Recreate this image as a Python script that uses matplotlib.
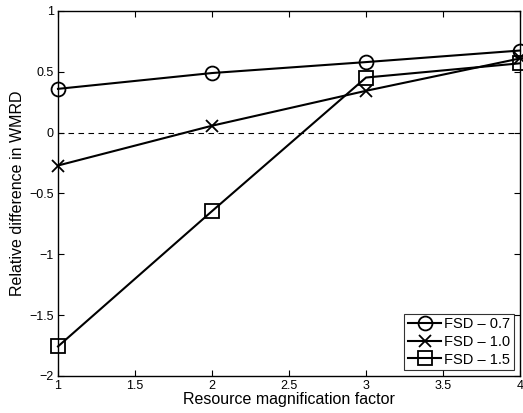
import matplotlib
matplotlib.use("Agg")
import matplotlib.pyplot as plt

# =========================
# Data
# =========================
magnification = [1, 2, 3, 4]
fsd_07 = [0.36, 0.49, 0.58, 0.675]
fsd_10 = [-0.27, 0.057, 0.344, 0.61]
fsd_15 = [-1.757, -0.645, 0.453, 0.57]

labels = ["FSD \u2013 0.7", "FSD \u2013 1.0", "FSD \u2013 1.5"]
markers = ["o", "x", "s"]

x_ticks = [1, 1.5, 2, 2.5, 3, 3.5, 4]
y_ticks = [-2, -1.5, -1, -0.5, 0, 0.5, 1]

plt.rcParams["font.family"] = ["Liberation Sans", "DejaVu Sans"]

fig = plt.figure(figsize=(5.23, 4.13), dpi=100)
ax = fig.add_axes([0.1109, 0.0896, 0.8834, 0.8838])

ax.axhline(0, color="black", linestyle=(0, (5, 4)), linewidth=0.8)

for series, label, mk in zip([fsd_07, fsd_10, fsd_15], labels, markers):
    ax.plot(
        magnification,
        series,
        color="black",
        linewidth=1.5,
        marker=mk,
        markersize=10 if mk != "x" else 9,
        markerfacecolor="none",
        markeredgecolor="black",
        markeredgewidth=1.3,
        label=label,
        clip_on=False,
        zorder=3,
    )

ax.set_xlim(1, 4)
ax.set_ylim(-2, 1)
ax.set_xticks(x_ticks)
ax.set_xticklabels(["1", "1.5", "2", "2.5", "3", "3.5", "4"])
ax.set_yticks(y_ticks)
ax.set_yticklabels(["\u22122", "\u22121.5", "\u22121", "\u22120.5", "0", "0.5", "1"])

ax.tick_params(direction="in", top=True, right=True, labelsize=9, length=4, pad=3)
for spine in ax.spines.values():
    spine.set_linewidth(1.0)

ax.set_xlabel("Resource magnification factor", fontsize=11.5, labelpad=0)
ax.set_ylabel("Relative difference in WMRD", fontsize=11.5, labelpad=3)

leg = ax.legend(
    loc="lower right",
    fontsize=10.5,
    frameon=True,
    fancybox=False,
    edgecolor="black",
    handlelength=2.3,
    handletextpad=0.2,
    borderpad=0.25,
    labelspacing=0.25,
    borderaxespad=0.4,
)
leg.get_frame().set_linewidth(0.8)

fig.savefig("out.png", dpi=100)
